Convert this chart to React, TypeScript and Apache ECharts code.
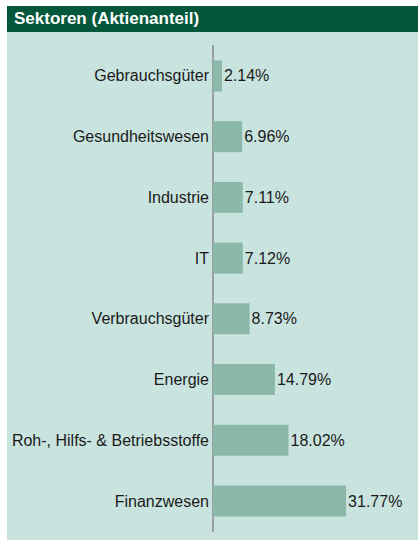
import React, { useEffect, useRef } from "react";
import * as echarts from "echarts";

const title = "Sektoren (Aktienanteil)";
const categories = [
  "Gebrauchsgüter",
  "Gesundheitswesen",
  "Industrie",
  "IT",
  "Verbrauchsgüter",
  "Energie",
  "Roh-, Hilfs- & Betriebsstoffe",
  "Finanzwesen",
];
const values = [2.14, 6.96, 7.11, 7.12, 8.73, 14.79, 18.02, 31.77];

const FONT = "'Liberation Sans', Arial, Helvetica, sans-serif";

export default function App() {
  const ref = useRef<HTMLDivElement>(null);
  useEffect(() => {
    if (!ref.current) return;
    const chart = echarts.init(ref.current, undefined, { renderer: "svg" });
    chart.setOption({
      animation: false,
      backgroundColor: "#ffffff",
      graphic: [
        {
          type: "rect",
          z: -10,
          shape: { x: 7, y: 6, width: 411, height: 534 },
          style: { fill: "#c9e4df" },
        },
        {
          type: "rect",
          z: -9,
          shape: { x: 7, y: 6, width: 411, height: 26 },
          style: { fill: "#03573b" },
        },
      ],
      title: {
        text: title,
        left: 14,
        top: 10,
        padding: 0,
        textStyle: {
          color: "#ffffff",
          fontSize: 17,
          fontWeight: "bold",
          fontFamily: FONT,
          lineHeight: 17,
        },
      },
      grid: { left: 213, right: 37.4, top: 45.6, bottom: 8.6, containLabel: false },
      xAxis: {
        type: "value",
        min: 0,
        max: 40,
        show: false,
      },
      yAxis: {
        type: "category",
        inverse: true,
        data: categories,
        axisLine: { show: true, lineStyle: { color: "#8a8a8a", width: 1.5 } },
        axisTick: { show: false },
        splitLine: { show: false },
        axisLabel: {
          fontSize: 16,
          color: "#1a1a1a",
          fontFamily: FONT,
          margin: 4,
        },
      },
      series: [
        {
          type: "bar",
          data: values,
          barWidth: 31,
          itemStyle: { color: "#8cb8a9" },
          label: {
            show: true,
            position: "right",
            distance: 2,
            fontSize: 16,
            color: "#1a1a1a",
            fontFamily: FONT,
            formatter: (p: any) => p.value.toFixed(2) + "%",
          },
        },
      ],
    });
    return () => chart.dispose();
  }, []);
  return (
    <div
      ref={ref}
      style={{ position: "fixed", left: 0, top: 0, width: 418, height: 540 }}
    />
  );
}
